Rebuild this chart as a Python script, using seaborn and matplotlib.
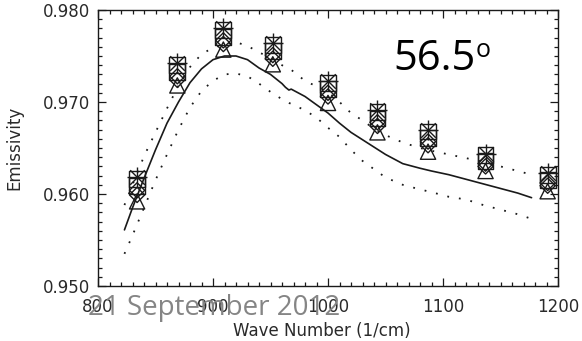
import matplotlib
matplotlib.use("Agg")
import matplotlib.pyplot as plt
from matplotlib.markers import MarkerStyle
from matplotlib.ticker import MultipleLocator, FormatStrFormatter
import pandas as pd
import seaborn as sns

# Measured channel emissivities (wavenumber in 1/cm), one list per symbol set
channel_wn = [834, 869, 909, 952, 1000, 1043, 1087, 1137, 1191]
emis_asterisk = [0.9618, 0.9742, 0.9780, 0.9764, 0.9723, 0.9691, 0.9670, 0.9644, 0.9623]
emis_square_a = [0.9616, 0.9740, 0.9778, 0.9762, 0.9721, 0.9689, 0.9668, 0.9642, 0.9621]
emis_square_b = [0.9609, 0.9733, 0.9771, 0.9755, 0.9714, 0.9682, 0.9661, 0.9636, 0.9615]
emis_diamond_a = [0.9604, 0.9728, 0.9767, 0.9751, 0.9710, 0.9678, 0.9657, 0.9633, 0.9612]
emis_diamond_b = [0.9599, 0.9724, 0.9763, 0.9747, 0.9706, 0.9674, 0.9653, 0.9630, 0.9609]
emis_triangle = [0.9592, 0.9718, 0.9757, 0.9741, 0.9699, 0.9667, 0.9646, 0.9625, 0.9603]

# Model emissivity spectrum (solid) and its upper / lower envelope (dotted)
model_wn = [823, 830, 840, 850, 860, 870, 880, 890, 900, 910, 920, 930, 940,
            950, 960, 963, 966, 968, 980, 990, 1000, 1010, 1020, 1030, 1040,
            1050, 1065, 1080, 1090, 1105, 1120, 1135, 1150, 1165, 1177]
model_mid = [0.9561, 0.9585, 0.9617, 0.9648, 0.9677, 0.9700, 0.9721, 0.9736,
             0.9746, 0.9750, 0.9750, 0.9746, 0.9737, 0.9730, 0.9720, 0.9716,
             0.9713, 0.9714, 0.9706, 0.9697, 0.9688, 0.9677, 0.9667, 0.9659,
             0.9651, 0.9643, 0.9633, 0.9628, 0.9625, 0.9621, 0.9616, 0.9611,
             0.9606, 0.9601, 0.9596]
model_upper = [0.9588, 0.9610, 0.9641, 0.9667, 0.9693, 0.9718, 0.9738, 0.9752,
               0.9759, 0.9763, 0.9765, 0.9761, 0.9754, 0.9748, 0.9740, 0.9738,
               0.9736, 0.9735, 0.9723, 0.9717, 0.9711, 0.9700, 0.9688, 0.9680,
               0.9671, 0.9664, 0.9656, 0.9650, 0.9647, 0.9643, 0.9639, 0.9635,
               0.9630, 0.9625, 0.9621]
model_lower = [0.9535, 0.9555, 0.9585, 0.9615, 0.9643, 0.9670, 0.9694, 0.9712,
               0.9723, 0.9730, 0.9731, 0.9728, 0.9720, 0.9711, 0.9703, 0.9701,
               0.9699, 0.9698, 0.9691, 0.9683, 0.9672, 0.9662, 0.9648, 0.9636,
               0.9627, 0.9618, 0.9610, 0.9605, 0.9602, 0.9597, 0.9594, 0.9588,
               0.9583, 0.9578, 0.9573]

x_ticks = [800, 900, 1000, 1100, 1200]
y_ticks = [0.950, 0.960, 0.970, 0.980]

sns.set_style("ticks")
plt.rcParams["font.family"] = ["DejaVu Sans"]

W, H = 582, 341
fig = plt.figure(figsize=(W / 100, H / 100), dpi=100)
ax = fig.add_axes([98 / W, 1 - 286 / H, 460 / W, 276 / H])

ink = "#1a1a1a"
curves = pd.DataFrame({"wn": model_wn, "mid": model_mid,
                       "upper": model_upper, "lower": model_lower})
sns.lineplot(data=curves, x="wn", y="mid", ax=ax, color=ink, linewidth=1.2,
             sort=False)
for col in ("upper", "lower"):
    sns.lineplot(data=curves, x="wn", y=col, ax=ax, color=ink, linewidth=1.3,
                 linestyle=(0, (1, 5.5)), sort=False)


def hollow(m):
    return MarkerStyle(m, fillstyle="none")


symbols = [
    (emis_triangle, hollow("^"), 120),
    (emis_diamond_b, hollow("D"), 60),
    (emis_diamond_a, hollow("D"), 60),
    (emis_square_b, hollow("s"), 130),
    (emis_square_a, hollow("s"), 130),
    (emis_asterisk, "+", 200),
    (emis_asterisk, "x", 110),
]
for vals, mk, size in symbols:
    sns.scatterplot(x=channel_wn, y=vals, ax=ax, marker=mk, s=size,
                    color=ink, linewidth=1.0, zorder=3, legend=False)

ax.set_xlim(800, 1200)
ax.set_ylim(0.950, 0.980)
ax.set_xticks(x_ticks)
ax.set_yticks(y_ticks)
ax.xaxis.set_minor_locator(MultipleLocator(10))
ax.yaxis.set_minor_locator(MultipleLocator(0.001))
ax.yaxis.set_major_formatter(FormatStrFormatter("%.3f"))
ax.tick_params(which="both", direction="in", top=True, right=True,
               colors=ink, labelcolor="#2a2a2a", labelsize=12, width=0.9)
ax.tick_params(which="major", length=6)
ax.tick_params(which="minor", length=3)
ax.tick_params(axis="x", pad=9)
ax.tick_params(axis="y", pad=6)
for sp in ax.spines.values():
    sp.set_color(ink)
    sp.set_linewidth(1.0)

ax.set_xlabel("Wave Number (1/cm)", fontsize=12, color="#2a2a2a")
ax.set_ylabel("Emissivity", fontsize=12, color="#2a2a2a")
ax.xaxis.set_label_coords((322 - 98) / 460, (286 - 322) / 276)
ax.yaxis.set_label_coords((23 - 98) / 460, 0.5)
ax.xaxis.label.set_va("top")

# viewing-angle annotation
fig.text(393 / W, 1 - 70 / H, "56.5", fontsize=30, family="Open Sans",
         color="black", ha="left", va="baseline")
fig.text(476 / W, 1 - 38 / H, "o", fontsize=18, family="Open Sans",
         color="black", ha="left", va="top")

# date footer
fig.text(88 / W, 1 - 315 / H, "21 September 2012", fontsize=20,
         family="Open Sans", color="#858585", ha="left", va="baseline")

fig.savefig("out.png", dpi=100)
